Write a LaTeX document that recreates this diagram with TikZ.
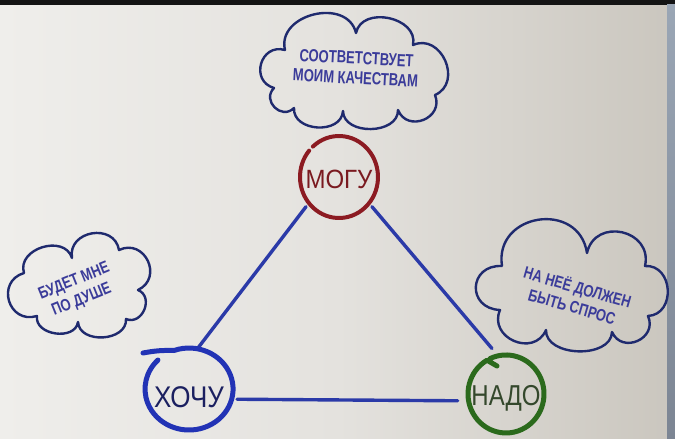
\documentclass[tikz,border=0pt]{standalone}
\usepackage{fontspec}
\usepackage{graphicx}
\setmainfont{Liberation Sans}
\usetikzlibrary{shapes.geometric}
\definecolor{bgL}{HTML}{EFEEEB}
\definecolor{bgM}{HTML}{E4E2DE}
\definecolor{bgR}{HTML}{CAC6BE}
\definecolor{stripT}{HTML}{9AA6B5}
\definecolor{stripB}{HTML}{7C8593}
\definecolor{triblue}{HTML}{2B3AA8}
\definecolor{cloudnavy}{HTML}{1F2A6E}
\definecolor{cloudtext}{HTML}{3B3C9A}
\definecolor{mogured}{HTML}{8C1B22}
\definecolor{mogutext}{HTML}{7A1A20}
\definecolor{khochublue}{HTML}{2233B5}
\definecolor{khochutext}{HTML}{1B2060}
\definecolor{nadogreen}{HTML}{2B6A1C}
\definecolor{nadotext}{HTML}{34482C}
\newcommand{\tallt}[2]{\scalebox{0.93}[#1]{#2}}
\begin{document}
\begin{tikzpicture}[x=1pt,y=-1pt,
  ringnode/.style={ellipse, draw=none, inner sep=0pt, text depth=0pt},
  ring/.style={line width=4.5pt, line cap=round, line join=round},
  tri/.style={draw=triblue, line width=3.4pt, line cap=round},
  cloudline/.style={draw=cloudnavy, line width=2.4pt, line join=round, line cap=round},
  lobe/.style={bend left=90, looseness=#1},
  cloudtxt/.style={text=cloudtext, align=center, font=\fontsize{14}{20}\selectfont\bfseries, inner sep=0pt}
]
\useasboundingbox (0,0) rectangle (675,439);
\shade[left color=bgL, right color=bgR, middle color=bgM] (0,0) rectangle (675,439);
\fill[black!92] (0,0) rectangle (675,4.5);
\shade[top color=stripT, bottom color=stripB] (667,4.5) rectangle (675,439);

% clouds
\draw[cloudline] (285,50) to[lobe=1.3] (356,33) to[lobe=1.25] (413,45) to[lobe=1.45] (435,95)
  to[lobe=1.6] (398,110) to[lobe=1.15] (343,111) to[lobe=1.25] (294,108) to[lobe=1.6] (274,88)
  to[lobe=1.65] (285,50);
\draw[cloudline] (72,258) to[lobe=1.5] (119,250) to[lobe=1.65] (138,290) to[lobe=1.45] (126,319)
  to[lobe=1.2] (78,322) to[lobe=1.2] (37,316) to[lobe=1.7] (24,273) to[lobe=1.3] (72,258);
\draw[cloudline] (502,266) to[lobe=1.6] (587,253) to[lobe=1.6] (645,266) to[lobe=1.45] (648,316)
  to[lobe=1.6] (612,332) to[lobe=1.05] (546,330) to[lobe=1.55] (500,310) to[lobe=1.95] (502,266);

\node[cloudtxt, rotate=-3] (toptext) at (356,68) {\tallt{1.25}{СООТВЕТСТВУЕТ}\\\tallt{1.25}{МОИМ КАЧЕСТВАМ}};
\node[cloudtxt, rotate=22] (lefttext) at (78,291) {\tallt{1.2}{БУДЕТ МНЕ}\\\tallt{1.2}{ПО ДУШЕ}};
\node[cloudtxt, rotate=-16] (righttext) at (575,296) {\tallt{1.2}{НА НЕЁ ДОЛЖЕН}\\\tallt{1.2}{БЫТЬ СПРОС}};

% ring nodes
\node[ringnode, minimum width=78pt, minimum height=82pt, text=mogutext,
  font=\fontsize{24}{24}\selectfont, text height=23pt] (mogu) at (339,177) {\scalebox{1}[1.1]{МОГУ}};
\node[ringnode, minimum width=88pt, minimum height=82pt, text=khochutext,
  font=\fontsize{26}{26}\selectfont, text height=36pt] (khochu) at (189,389) {\scalebox{1}[1.15]{ХОЧУ}};
\node[ringnode, minimum width=76pt, minimum height=78pt, text=nadotext,
  font=\fontsize{24}{24}\selectfont, text height=22.6pt] (nado) at (506,394) {\scalebox{1}[1.2]{НАДО}};

% triangle
\draw[tri] (mogu.222) -- (khochu.78);
\draw[tri, shorten >=9pt] (mogu.-42) -- (nado.102);
\draw[tri] (khochu.-12) -- (nado.188);

% rings
\draw[ring, draw=mogured, line width=4pt] (mogu.center) ++(228:39 and 41)
  arc[start angle=228, delta angle=352, x radius=39, y radius=41];
\draw[ring, draw=khochublue, line width=5pt] (khochu.center) ++(-46,-36) to[bend left=6] ++(31,-2.5)
  arc[start angle=250, delta angle=335, x radius=44, y radius=41];
\draw[ring, draw=nadogreen, line width=5pt] (nado.center) ++(-9,-28) -- ++(-10,-5.8)
  arc[start angle=240, delta angle=-355, x radius=38, y radius=39];
\end{tikzpicture}
\end{document}
